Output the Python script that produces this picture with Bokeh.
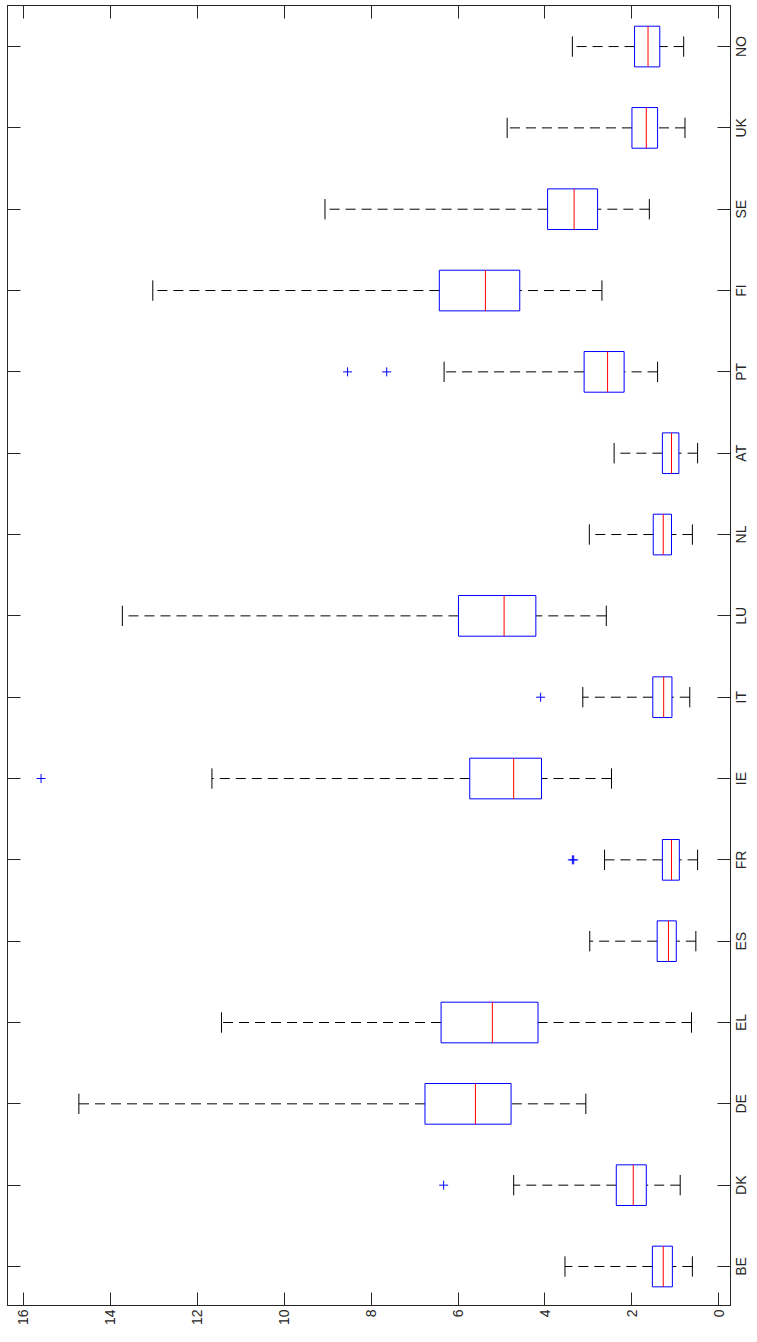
import numpy as np
from math import pi
from bokeh.plotting import figure
from bokeh.layouts import row
from bokeh.models import Range1d, LinearAxis, FixedTicker, ColumnDataSource
from bokeh.core.properties import value
from bokeh.embed import file_html
from bokeh.resources import INLINE

# ---- data ----
countries = ["BE", "DK", "DE", "EL", "ES", "FR", "IE", "IT",
             "LU", "NL", "AT", "PT", "FI", "SE", "UK", "NO"]
lower_whisker = [0.61, 0.89, 3.06, 0.63, 0.53, 0.49, 2.47, 0.67,
                 2.59, 0.61, 0.49, 1.41, 2.69, 1.60, 0.78, 0.81]
q1 = [1.07, 1.67, 4.78, 4.16, 0.98, 0.91, 4.08, 1.08,
      4.21, 1.09, 0.92, 2.18, 4.58, 2.79, 1.41, 1.36]
median = [1.28, 1.97, 5.60, 5.21, 1.16, 1.09, 4.72, 1.27,
          4.94, 1.28, 1.09, 2.56, 5.37, 3.33, 1.67, 1.63]
q3 = [1.53, 2.36, 6.76, 6.39, 1.42, 1.30, 5.73, 1.52,
      5.99, 1.51, 1.30, 3.10, 6.43, 3.94, 2.00, 1.94]
upper_whisker = [3.54, 4.72, 14.72, 11.44, 2.97, 2.63, 11.66, 3.13,
                 13.72, 2.98, 2.41, 6.32, 13.02, 9.06, 4.87, 3.37]
outlier_country = ["DK", "FR", "FR", "IE", "IT", "PT", "PT"]
outlier_value = [6.33, 3.34, 3.37, 15.59, 4.10, 8.54, 7.64]
value_ticks = [0, 2, 4, 6, 8, 10, 12, 14, 16]

# ---- derived positions ----
pos = np.arange(1, len(countries) + 1)
box_h = 0.5
cap_h = 0.25
src = ColumnDataSource(dict(
    y=pos, lo=lower_whisker, q1=q1, med=median, q3=q3, hi=upper_whisker,
    yb0=pos - box_h / 2, yb1=pos + box_h / 2,
    yc0=pos - cap_h / 2, yc1=pos + cap_h / 2,
))
idx = {c: i + 1 for i, c in enumerate(countries)}
out_src = ColumnDataSource(dict(x=outlier_value,
                                y=[idx[c] for c in outlier_country]))

AX = "#262626"
FONT = "Liberation Sans"
FS = "14px"

# ---- layout geometry (pixels) ----
BL, BT, BR = 7, 5, 2          # main figure borders left / top / right
FW, FH = 723, 1300            # main frame size
LW = 16                       # width of the strip carrying the category names
X0, XPU = 718.4, 43.48        # x of value 0, px per unit (as in the reference)
Y1, YPU = 1266.0, 81.33       # y of first category, px per unit
x_rng = Range1d((X0 - BL) / XPU, (X0 - (BL + FW)) / XPU)
y_rng = Range1d(1 + (Y1 - (BT + FH)) / YPU, 1 + (Y1 - BT) / YPU)

p = figure(frame_width=FW, frame_height=FH,
           x_range=x_rng, y_range=y_rng,
           output_backend="svg", toolbar_location=None,
           x_axis_location=None, y_axis_location=None,
           min_border_left=BL, min_border_top=BT,
           min_border_right=BR, min_border_bottom=0,
           background_fill_color="white", border_fill_color="white")
p.grid.visible = False
p.outline_line_color = AX
p.outline_line_width = 1


def tick_axis(ticks, show_labels=False):
    ax = LinearAxis(ticker=FixedTicker(ticks=list(ticks)))
    ax.major_tick_in = 13
    ax.major_tick_out = 0
    ax.minor_tick_line_color = None
    ax.axis_line_color = AX
    ax.major_tick_line_color = AX
    if show_labels:
        ax.major_label_orientation = pi / 2
        ax.major_label_text_font = FONT
        ax.major_label_text_font_size = FS
        ax.major_label_text_color = AX
        ax.major_label_standoff = 4
    else:
        ax.major_label_text_font_size = "1px"
        ax.major_label_text_color = None
        ax.major_label_standoff = 0
    return ax


p.add_layout(tick_axis(value_ticks, show_labels=True), "below")
p.add_layout(tick_axis(value_ticks), "above")
p.add_layout(tick_axis(pos.tolist()), "right")
p.add_layout(tick_axis(pos.tolist()), "left")

# whiskers (dashed)
p.segment(x0="q3", y0="y", x1="hi", y1="y", source=src,
          line_color="black", line_width=1, line_dash="10 6")
p.segment(x0="lo", y0="y", x1="q1", y1="y", source=src,
          line_color="black", line_width=1, line_dash="10 6")
# caps
p.segment(x0="hi", y0="yc0", x1="hi", y1="yc1", source=src,
          line_color="black", line_width=1)
p.segment(x0="lo", y0="yc0", x1="lo", y1="yc1", source=src,
          line_color="black", line_width=1)
# boxes
p.hbar(y="y", left="q1", right="q3", height=box_h, source=src,
       fill_color=None, line_color="#0000ff", line_width=1)
# medians
p.segment(x0="med", y0="yb0", x1="med", y1="yb1", source=src,
          line_color="#ff0000", line_width=1)
# outliers
p.scatter(x="x", y="y", source=out_src, marker="cross", size=9,
          line_color="#0000ff", line_width=1)

# strip on the right with the category names, read bottom-to-top
q = figure(frame_width=LW, frame_height=FH,
           x_range=Range1d(0, 1), y_range=y_rng,
           output_backend="svg", toolbar_location=None,
           x_axis_location=None, y_axis_location=None,
           min_border=0, min_border_top=BT,
           background_fill_color="white", border_fill_color="white")
q.grid.visible = False
q.outline_line_color = None
name_src = ColumnDataSource(dict(x=[0.5] * len(countries), y=pos, t=countries))
q.text(x="x", y="y", text="t", source=name_src, angle=pi / 2,
       text_align="center", text_baseline="middle",
       text_font=value(FONT), text_font_size=value(FS), text_color=AX)

layout = row(p, q)
open("out.html", "w").write(file_html(layout, INLINE))
